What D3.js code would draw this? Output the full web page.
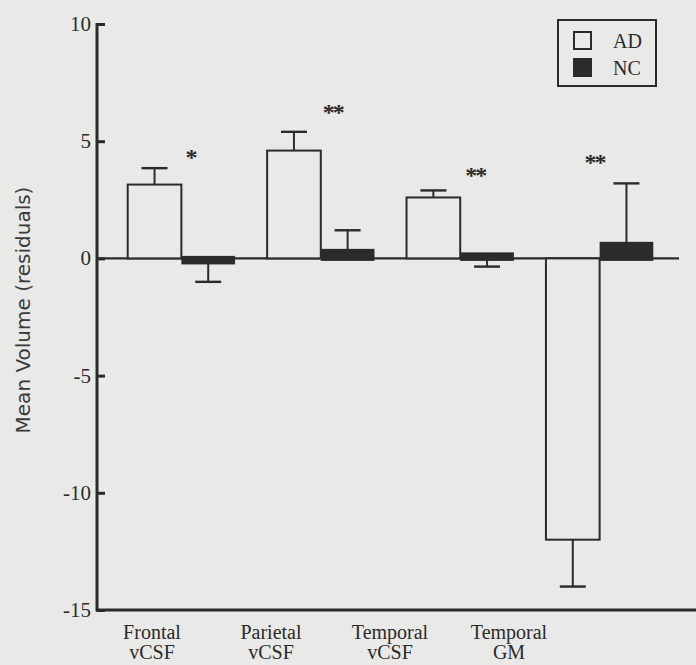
<!DOCTYPE html>
<html>
<head>
<meta charset="utf-8">
<script src="https://cdn.jsdelivr.net/npm/d3@7"></script>
<style>
  html, body { margin: 0; padding: 0; background: #e9e9e7; }
  svg { display: block; }
</style>
</head>
<body>
<svg id="chart" width="696" height="665"></svg>
<script>
// ---- data ----
const categories = ["Frontal vCSF", "Parietal vCSF", "Temporal vCSF", "Temporal GM"];
const labelLines = [["Frontal", "vCSF"], ["Parietal", "vCSF"], ["Temporal", "vCSF"], ["Temporal", "GM"]];
const series = ["AD", "NC"];
const adValues = [3.15, 4.6, 2.6, -12.0];
const adErrorEnds = [3.85, 5.4, 2.9, -14.0];
const ncValues = [-0.15, 0.3, 0.15, 0.6];
const ncErrorEnds = [-1.0, 1.2, -0.35, 3.2];
const significance = ["*", "**", "**", "**"];
const significanceY = [4.5, 6.4, 3.75, 4.3];
const yTicks = [10, 5, 0, -5, -10, -15];
const yLabel = "Mean Volume (residuals)";

const ink = "#2b2b2b";
const paper = "#e9e9e7";

const svg = d3.select("#chart");
svg.append("rect").attr("width", 696).attr("height", 665).attr("fill", paper);

const y = d3.scaleLinear().domain([-15, 10]).range([610, 24]);
const x = d3.scaleBand().domain(categories).range([104, 677]).paddingInner(0.23).paddingOuter(0.17);
const xs = d3.scaleBand().domain(series).range([0, x.bandwidth()]);
const xLabel = d3.scalePoint().domain(categories).range([152, 509]);

const rows = [];
categories.forEach((c, i) => {
  rows.push({cat: c, s: "AD", v: adValues[i], e: adErrorEnds[i]});
  rows.push({cat: c, s: "NC", v: ncValues[i], e: ncErrorEnds[i]});
});

// zero line
svg.append("line")
  .attr("x1", 97).attr("x2", 679)
  .attr("y1", y(0)).attr("y2", y(0))
  .attr("stroke", ink).attr("stroke-width", 2.2);

// error bars
const eb = svg.append("g");
rows.forEach(r => {
  const cx = x(r.cat) + xs(r.s) + xs.bandwidth() / 2;
  eb.append("line").attr("x1", cx).attr("x2", cx)
    .attr("y1", y(r.v)).attr("y2", y(r.e))
    .attr("stroke", ink).attr("stroke-width", 2);
  eb.append("line").attr("x1", cx - 13).attr("x2", cx + 13)
    .attr("y1", y(r.e)).attr("y2", y(r.e))
    .attr("stroke", ink).attr("stroke-width", 2.4);
});

// bars
svg.append("g").selectAll("rect").data(rows).join("rect")
  .attr("x", d => x(d.cat) + xs(d.s))
  .attr("width", xs.bandwidth())
  .attr("y", d => d.s === "NC" ? Math.min(y(d.v), y(0)) - 2.5 : Math.min(y(d.v), y(0)))
  .attr("height", d => d.s === "NC" ? Math.abs(y(d.v) - y(0)) + 5 : Math.abs(y(d.v) - y(0)))
  .attr("fill", d => d.s === "AD" ? paper : ink)
  .attr("stroke", ink)
  .attr("stroke-width", d => d.s === "AD" ? 2 : 0);

// significance markers
svg.append("g").selectAll("text").data(categories).join("text")
  .attr("x", (c, i) => x(c) + x.bandwidth() / 2 + [9, 12, 15, -5][i])
  .attr("y", (c, i) => y(significanceY[i]) + 12)
  .attr("text-anchor", "middle")
  .attr("font-family", "Liberation Serif, serif")
  .attr("font-size", 24)
  .attr("font-weight", "bold")
  .attr("fill", ink)
  .attr("letter-spacing", "-2px")
  .text((c, i) => significance[i]);

// y axis
const yAxis = d3.axisRight(y).tickValues(yTicks).tickSize(8).tickFormat("");
const ga = svg.append("g").attr("transform", "translate(97,0)").call(yAxis);
ga.select(".domain").remove();
ga.selectAll(".tick line").attr("stroke", ink).attr("stroke-width", 3);
svg.append("line").attr("x1", 97).attr("x2", 97).attr("y1", y(10) - 1).attr("y2", y(-15) + 1.5)
  .attr("stroke", ink).attr("stroke-width", 3);
svg.append("g").selectAll("text").data(yTicks).join("text")
  .attr("x", 91).attr("y", d => y(d) + 7)
  .attr("text-anchor", "end")
  .attr("font-family", "Liberation Serif, serif")
  .attr("font-size", 21)
  .attr("fill", ink)
  .text(d => d);

// bottom axis line
svg.append("line").attr("x1", 96).attr("x2", 696).attr("y1", y(-15)).attr("y2", y(-15))
  .attr("stroke", ink).attr("stroke-width", 3);

// x labels
const xl = svg.append("g");
categories.forEach((c, i) => {
  const t = xl.append("text")
    .attr("x", xLabel(c)).attr("y", 639)
    .attr("text-anchor", "middle")
    .attr("font-family", "Liberation Serif, serif")
    .attr("font-size", 20)
    .attr("fill", ink);
  labelLines[i].forEach((ln, j) => {
    t.append("tspan").attr("x", xLabel(c)).attr("dy", j === 0 ? 0 : 20).text(ln);
  });
});

// y label
svg.append("text")
  .attr("transform", "translate(30,310) rotate(-90)")
  .attr("text-anchor", "middle")
  .attr("font-family", "DejaVu Sans, sans-serif")
  .attr("font-size", 20)
  .attr("fill", "#3a3a3a")
  .text(yLabel);

// legend
const lg = svg.append("g").attr("transform", "translate(558,20)");
lg.append("rect").attr("width", 98).attr("height", 66)
  .attr("fill", "none").attr("stroke", ink).attr("stroke-width", 2);
series.forEach((s, i) => {
  lg.append("rect").attr("x", 16).attr("y", 12 + i * 27).attr("width", 17).attr("height", 17)
    .attr("fill", s === "AD" ? paper : ink).attr("stroke", ink).attr("stroke-width", 2);
  lg.append("text").attr("x", 55).attr("y", 28 + i * 27)
    .attr("font-family", "Liberation Serif, serif").attr("font-size", 20).attr("fill", ink)
    .text(s);
});
</script>
</body>
</html>
